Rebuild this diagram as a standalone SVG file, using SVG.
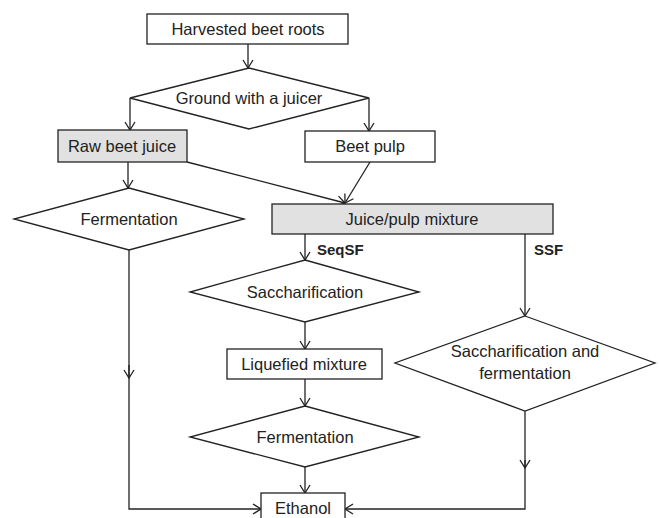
<svg xmlns="http://www.w3.org/2000/svg" width="659" height="518" viewBox="0 0 659 518">
<style>
.box{fill:#fff;stroke:#222;stroke-width:1.3}
.gray{fill:#e1e1e1}
.t{font-family:"Liberation Sans",Arial,sans-serif;font-size:16.5px;fill:#222;text-anchor:middle}
.b{font-family:"Liberation Sans",Arial,sans-serif;font-size:15px;font-weight:bold;fill:#222}
.c{fill:none;stroke:#222;stroke-width:1.3}
</style>
<defs>
<marker id="ah" viewBox="-10 -6 12 12" refX="0" refY="0" markerWidth="12" markerHeight="12" markerUnits="userSpaceOnUse" orient="auto">
<path d="M-8,-5 L0,0 L-8,5" fill="none" stroke="#222" stroke-width="1.3"/>
</marker>
</defs>
<rect width="659" height="518" fill="#fff"/>
<g id="connectors">
<path class="c" d="M248,44 V68" marker-end="url(#ah)"/>
<path class="c" d="M130,98 V130" marker-end="url(#ah)"/>
<path class="c" d="M369,98 V131" marker-end="url(#ah)"/>
<path class="c" d="M128,162 V188" marker-end="url(#ah)"/>
<path class="c" d="M187,162 L345,203" marker-end="url(#ah)"/>
<path class="c" d="M370,162 L345,203" marker-end="url(#ah)"/>
<path class="c" d="M305,234 V260" marker-end="url(#ah)"/>
<path class="c" d="M525,234 V316" marker-end="url(#ah)"/>
<path class="c" d="M305,322 V349" marker-end="url(#ah)"/>
<path class="c" d="M305,379 V406" marker-end="url(#ah)"/>
<path class="c" d="M305,467 V493" marker-end="url(#ah)"/>
<path class="c" d="M129,250 V378" marker-end="url(#ah)"/>
<path class="c" d="M129,365 V509 H261" stroke-width="2" marker-end="url(#ah)"/>
<path class="c" d="M525,411 V468" stroke-width="2" marker-end="url(#ah)"/>
<path class="c" d="M525,460 V509 H345" stroke-width="2" marker-end="url(#ah)"/>
<text class="b" x="317" y="255">SeqSF</text>
<text class="b" x="534" y="255">SSF</text>
</g>
<g id="harvested"><rect class="box" x="147" y="14" width="201" height="30"/><text class="t" x="248" y="35">Harvested beet roots</text></g>
<g id="ground"><polygon class="box" points="249,68 369,98 249,129 130,98"/><text class="t" x="249" y="104">Ground with a juicer</text></g>
<g id="rawjuice"><rect class="box gray" x="58" y="130" width="129" height="32"/><text class="t" x="122" y="152">Raw beet juice</text></g>
<g id="beetpulp"><rect class="box" x="305" y="131" width="130" height="31"/><text class="t" x="370" y="152">Beet pulp</text></g>
<g id="ferment1"><polygon class="box" points="129,188 244,219 129,250 14,219"/><text class="t" x="129" y="225">Fermentation</text></g>
<g id="mixture"><rect class="box gray" x="272" y="204" width="281" height="30"/><text class="t" x="412" y="225">Juice/pulp mixture</text></g>
<g id="sacch"><polygon class="box" points="305,260 419,292 305,322 190,292"/><text class="t" x="305" y="298">Saccharification</text></g>
<g id="liquefied"><rect class="box" x="227" y="349" width="155" height="30"/><text class="t" x="304" y="370">Liquefied mixture</text></g>
<g id="ferment2"><polygon class="box" points="305,406 419,437 305,467 190,437"/><text class="t" x="305" y="443">Fermentation</text></g>
<g id="ssf"><polygon class="box" points="525,316 655,363 525,411 395,363"/><text class="t" x="525" y="357">Saccharification and</text><text class="t" x="525" y="379">fermentation</text></g>
<g id="ethanol"><rect class="box" x="261" y="493" width="84" height="35"/><text class="t" x="303" y="514">Ethanol</text></g>
</svg>
